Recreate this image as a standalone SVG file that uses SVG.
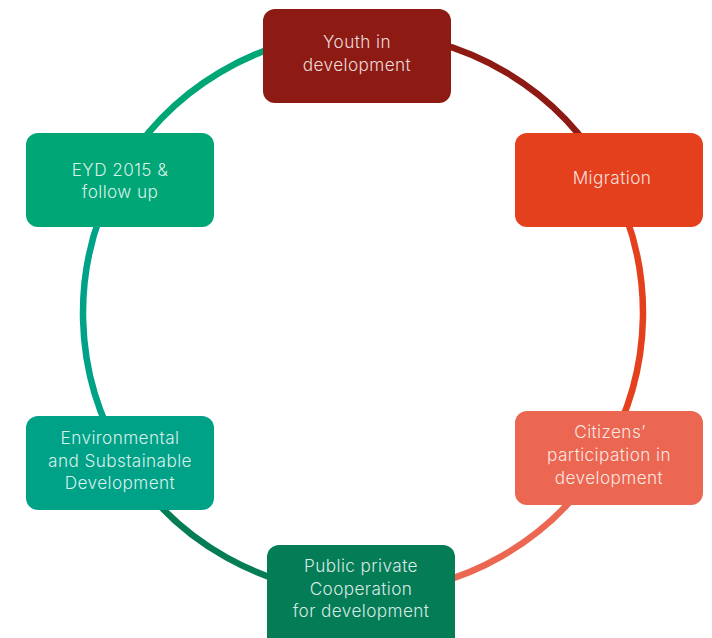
<svg xmlns="http://www.w3.org/2000/svg" width="712" height="638" viewBox="0 0 712 638">
<style>
.lbl{font-family:Inter,"Noto Sans","Liberation Sans",sans-serif;font-size:17.2px;font-weight:300;text-anchor:middle;fill:#ffffff;fill-opacity:0.85;letter-spacing:0.4px}
.arc{fill:none;stroke-width:6.5}
</style>
<rect width="712" height="638" fill="#ffffff"/>
<g id="connectors">
<path class="arc" stroke="#8E1B13" d="M363,33 A280,280 0 0 1 609.3,179.8"/>
<path class="arc" stroke="#E5401E" d="M609.3,179.8 A280,280 0 0 1 604.2,455.1"/>
<path class="arc" stroke="#EB6752" d="M604.2,455.1 A280,280 0 0 1 363,593"/>
<path class="arc" stroke="#047D57" d="M363,593 A280,280 0 0 1 124.8,460.1"/>
<path class="arc" stroke="#00A287" d="M124.8,460.1 A280,280 0 0 1 117.4,178.5"/>
<path class="arc" stroke="#00A676" d="M117.4,178.5 A280,280 0 0 1 363,33"/>
</g>
<g id="youth">
<rect x="263" y="9" width="188" height="94" rx="12" fill="#8E1B13"/>
<text class="lbl" x="357" y="48">Youth in</text>
<text class="lbl" x="357" y="71">development</text>
</g>
<g id="migration">
<rect x="515" y="133" width="188" height="94" rx="12" fill="#E5401E"/>
<text class="lbl" x="612" y="184">Migration</text>
</g>
<g id="citizens">
<rect x="515" y="411" width="188" height="94" rx="12" fill="#EB6752"/>
<text class="lbl" x="610" y="438">Citizens’</text>
<text class="lbl" x="609" y="461">participation in</text>
<text class="lbl" x="609" y="484">development</text>
</g>
<g id="public">
<rect x="267" y="545" width="188" height="104" rx="12" fill="#047D57"/>
<text class="lbl" x="361" y="572">Public private</text>
<text class="lbl" x="361" y="595">Cooperation</text>
<text class="lbl" x="361" y="617">for development</text>
</g>
<g id="environmental">
<rect x="26" y="416" width="188" height="94" rx="12" fill="#00A287"/>
<text class="lbl" x="120" y="444">Environmental</text>
<text class="lbl" x="120" y="467">and Substainable</text>
<text class="lbl" x="120" y="489">Development</text>
</g>
<g id="eyd">
<rect x="26" y="133" width="188" height="94" rx="12" fill="#00A676"/>
<text class="lbl" x="120" y="176">EYD 2015 &amp;</text>
<text class="lbl" x="120" y="198">follow up</text>
</g>
</svg>
